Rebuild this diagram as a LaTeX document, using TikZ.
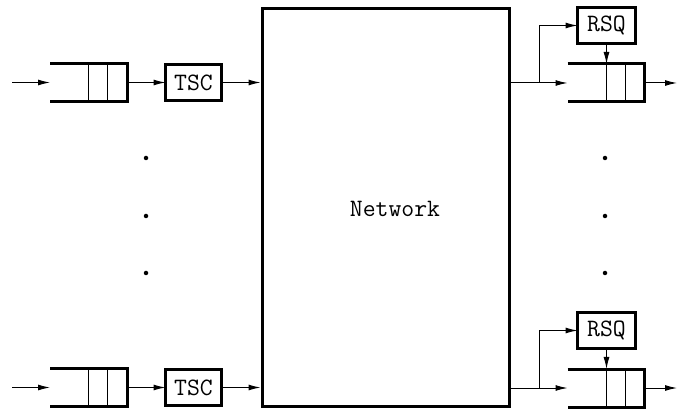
\documentclass[tikz,border=0pt]{standalone}
\usetikzlibrary{arrows.meta,calc}
\begin{document}
\begin{tikzpicture}[x=1pt,y=-1pt,
  thin line/.style={line width=1pt},
  thick line/.style={line width=3pt},
  arr/.style={thin line,-{Latex[length=12pt,width=6pt]}},
  qnode/.style={minimum width=77pt,minimum height=38pt,inner sep=0pt,outer sep=0pt},
  boxnode/.style={draw,thick line,inner sep=0pt,outer sep=0pt,font=\fontsize{25}{29}\ttfamily},
  dot/.style={circle,fill,inner sep=0pt,minimum size=4.5pt}
]
\useasboundingbox (0,0) rectangle (677,411);

% network
\node[draw,thick line,minimum width=247pt,minimum height=398pt,inner sep=0pt] (net) at (385.5,207.5) {};
\node[font=\fontsize{25}{29}\ttfamily] (netlabel) at (395,209) {Network};

% queues (invisible nodes, shapes drawn below)
\node[qnode] (q1) at (88.5,82.5) {};
\node[qnode] (q2) at (88.5,387.5) {};
\node[qnode] (q3) at (606,83) {};
\node[qnode] (q4) at (606,388) {};

\foreach \q in {q1,q2,q3,q4}{
  \draw[thick line] (\q.north west) -- (\q.north east) -- (\q.south east) -- (\q.south west);
  \draw[thin line] (\q.north) -- (\q.south);
  \draw[thin line] ($(\q.north)!0.5!(\q.north east)$) -- ($(\q.south)!0.5!(\q.south east)$);
}

% TSC boxes
\node[boxnode,minimum width=56pt,minimum height=36pt] (tsc1) at (193.5,82.5) {TSC};
\node[boxnode,minimum width=56pt,minimum height=36pt] (tsc2) at (193.5,387.5) {TSC};

% RSQ boxes
\node[boxnode,minimum width=58pt,minimum height=36pt] (rsq1) at (606.5,25.5) {RSQ};
\node[boxnode,minimum width=58pt,minimum height=36pt] (rsq2) at (606.5,330.5) {RSQ};

% free ends
\coordinate (in1) at (12,82.5);
\coordinate (in2) at (12,387.5);
\coordinate (out1) at (677,83);
\coordinate (out2) at (677,388);
\coordinate (br1) at (539,83);
\coordinate (br2) at (539,388);

% left side connectors
\draw[arr] (in1) -- (q1.west);
\draw[arr] (q1.east) -- (tsc1.west);
\draw[arr] (tsc1.east) -- (tsc1.east -| net.west);
\draw[arr] (in2) -- (q2.west);
\draw[arr] (q2.east) -- (tsc2.west);
\draw[arr] (tsc2.east) -- (tsc2.east -| net.west);

% right side connectors
\draw[arr] (q3.west -| net.east) -- (q3.west);
\draw[arr] (br1) |- (rsq1.west);
\draw[arr] (rsq1.south) -- (rsq1.south |- q3.north);
\draw[arr] (q3.east) -- (out1);
\draw[arr] (q4.west -| net.east) -- (q4.west);
\draw[arr] (br2) |- (rsq2.west);
\draw[arr] (rsq2.south) -- (rsq2.south |- q4.north);
\draw[arr] (q4.east) -- (out2);

% dots
\node[dot] (dl1) at (146,158) {};
\node[dot] (dl2) at (146,216) {};
\node[dot] (dl3) at (146,273) {};
\node[dot] (dr1) at (605,158) {};
\node[dot] (dr2) at (605,216) {};
\node[dot] (dr3) at (605,273) {};
\end{tikzpicture}
\end{document}
